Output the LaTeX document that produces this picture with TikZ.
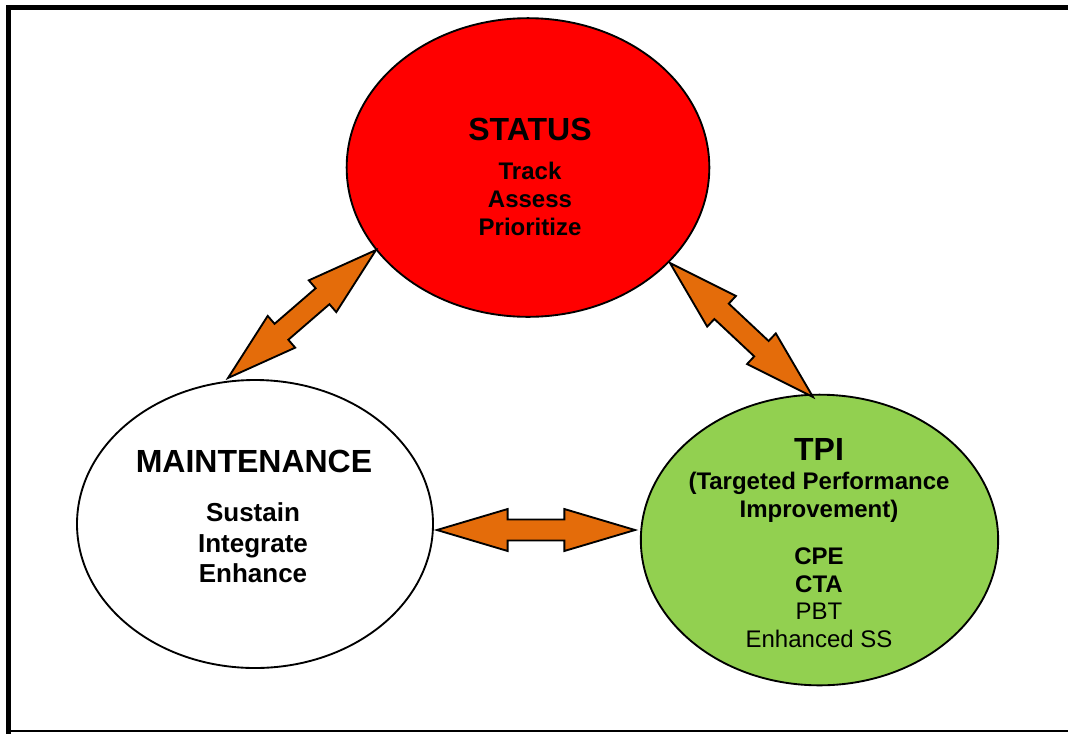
\documentclass[tikz,border=0pt]{standalone}
\usepackage{fontspec}
\setmainfont{Liberation Sans}
\usetikzlibrary{shapes.geometric,calc}

\definecolor{statusred}{HTML}{FF0000}
\definecolor{tpigreen}{HTML}{92D050}
\definecolor{linkorange}{HTML}{E46C0A}

% sizes of the two-way block arrows
\newcommand{\headlen}{53pt}
\newcommand{\headwd}{15.75pt}
\newcommand{\shaftwd}{7.9pt}

% block arrow with a head at both ends, tip #1 to tip #2
\newcommand{\twowayarrow}[2]{%
  \draw[linkarrow] (#1)
    -- ($(#1)!\headlen!(#2)!\headwd!90:(#2)$)
    -- ($(#1)!\headlen!(#2)!\shaftwd!90:(#2)$)
    -- ($(#2)!\headlen!(#1)!\shaftwd!-90:(#1)$)
    -- ($(#2)!\headlen!(#1)!\headwd!-90:(#1)$)
    -- (#2)
    -- ($(#2)!\headlen!(#1)!\headwd!90:(#1)$)
    -- ($(#2)!\headlen!(#1)!\shaftwd!90:(#1)$)
    -- ($(#1)!\headlen!(#2)!\shaftwd!-90:(#2)$)
    -- ($(#1)!\headlen!(#2)!\headwd!-90:(#2)$)
    -- cycle;}

\tikzset{
  bubble/.style={ellipse, draw=black, line width=1.4pt, inner sep=0pt},
  linkarrow/.style={fill=linkorange, draw=black, line width=1.4pt, line join=miter},
  bubbletitle/.style={anchor=base, font=\fontsize{24}{28}\selectfont\bfseries},
  bubbleline/.style={anchor=base, font=\fontsize{18}{21}\selectfont\bfseries},
  plainline/.style={anchor=base, font=\fontsize{18}{21}\selectfont}
}

\begin{document}
\begin{tikzpicture}[x=0.75pt, y=-0.75pt]
  \useasboundingbox (0,0) rectangle (1068,733);

  % frame
  \draw[line width=3.8pt] (8.5,740) -- (8.5,7.5) -- (1075,7.5);
  \draw[line width=1.5pt] (8.5,731) -- (1075,731);

  % the three bubbles
  \node[bubble, fill=statusred, minimum width=272pt, minimum height=224pt] (status) at (528,167.5) {};
  \node[bubble, fill=white, minimum width=267pt, minimum height=216pt] (maint) at (255,524) {};
  \node[bubble, fill=tpigreen, minimum width=268pt, minimum height=218pt] (tpi) at (819.5,540) {};

  %STATUS
  \node[bubbletitle] (statustitle) at (530,140) {STATUS};
  \foreach \txt [count=\i] in {Track,Assess,Prioritize}
    \node[bubbleline] (status\i) at (530,151+28*\i) {\txt};

  %MAINTENANCE
  \node[bubbletitle] (mainttitle) at (254,472) {MAINTENANCE};
  \foreach \txt [count=\i] in {Sustain,Integrate,Enhance}
    \node[bubbleline, font=\fontsize{19.5}{23}\selectfont\bfseries] (maint\i) at (253,491+30.5*\i) {\txt};

  %TPI
  \node[bubbletitle] (tpititle) at (819,460) {TPI};
  \node[bubbleline] (tpisub1) at (819,489) {(Targeted Performance};
  \node[bubbleline] (tpisub2) at (819,517) {Improvement)};
  \node[bubbleline] (tpi1) at (819,564) {CPE};
  \node[bubbleline] (tpi2) at (819,592) {CTA};
  \node[plainline] (tpi3) at (819,619) {PBT};
  \node[plainline] (tpi4) at (819,647) {Enhanced SS};

  % arrow tips
  \coordinate (maintup) at (228,378);
  \coordinate (statusleft) at (376,250);
  \coordinate (statusright) at (670,263);
  \coordinate (tpiup) at (813,397);
  \coordinate (maintright) at (437,530);
  \coordinate (tpileft) at (635,530);

  \twowayarrow{maintup}{statusleft}
  \twowayarrow{statusright}{tpiup}
  \twowayarrow{maintright}{tpileft}
\end{tikzpicture}
\end{document}
